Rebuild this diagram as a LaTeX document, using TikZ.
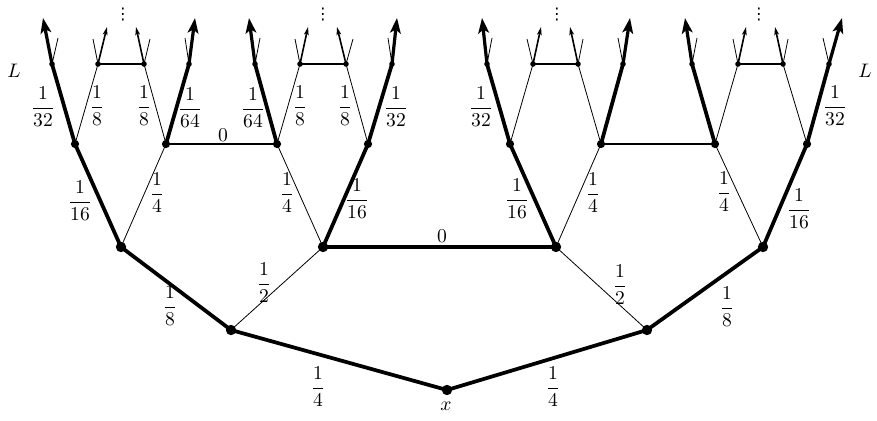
\documentclass[tikz,border=0pt]{standalone}
\usepackage{amsmath}
\usepackage{fontspec}
\newfontfamily\dejavu{DejaVu Sans}
\usetikzlibrary{arrows.meta}
\begin{document}
\begin{tikzpicture}[x=0.56pt,y=-0.56pt,
  thk/.style={line width=2.1pt},
  thn/.style={line width=0.45pt},
  hmid/.style={line width=1.6pt},
  hsml/.style={line width=1.1pt},
  tarr/.style={line width=1.8pt,-{Stealth[length=8.5pt,width=6pt,inset=2pt]}},
  marr/.style={line width=0.9pt,-{Stealth[length=4.5pt,width=2.6pt,inset=1pt]}},
  bigdot/.style={circle,fill=black,draw=none,inner sep=0pt,minimum size=5.8pt},
  middot/.style={circle,fill=black,draw=none,inner sep=0pt,minimum size=4.6pt},
  smldot/.style={circle,fill=black,draw=none,inner sep=0pt,minimum size=3.1pt},
  lab/.style={inner sep=0pt,font=\fontsize{11}{13}\selectfont},
  vd/.style={inner sep=0pt,font=\dejavu\fontsize{9}{10}\selectfont}
]
\useasboundingbox (0,0) rectangle (877,420);
% tree points
\coordinate (r) at (447,390);
\coordinate (a) at (231,330);
\coordinate (b) at (647,330);
\coordinate (a1) at (121,247);
\coordinate (a2) at (323,247);
\coordinate (b1) at (556,247);
\coordinate (b2) at (763,247);
\foreach \i/\x in {1/75,2/166,3/277,4/368,5/510,6/601,7/715,8/807}
  {\coordinate (p\i) at (\x,144);}
\foreach \i/\x in {1/52,2/98,3/144,4/189,5/255,6/300,7/346,8/392,9/487,10/533,11/578,12/623,13/692,14/738,15/783,16/829}
  {\coordinate (q\i) at (\x,64);}
% thick edges
\draw[thk] (a1) -- (a) -- (r) -- (b) -- (b2);
\draw[thk] (a1) -- (p1);
\draw[thk] (a2) -- (p4);
\draw[thk] (b1) -- (p5);
\draw[thk] (b2) -- (p8);
\draw[thk] (a2) -- (b1);
\draw[hmid] (p2) -- (p3);
\draw[hmid] (p6) -- (p7);
\foreach \u/\v in {p1/q1,p2/q4,p3/q5,p4/q8,p5/q9,p6/q12,p7/q13,p8/q16}
  {\draw[thk] (\u) -- (\v);}
% thin edges
\draw[thn] (a) -- (a2);
\draw[thn] (b) -- (b1);
\draw[thn] (a1) -- (p2);
\draw[thn] (a2) -- (p3);
\draw[thn] (b1) -- (p6);
\draw[thn] (b2) -- (p7);
\foreach \u/\v in {p1/q2,p2/q3,p3/q6,p4/q7,p5/q10,p6/q11,p7/q14,p8/q15}
  {\draw[thn] (\u) -- (\v);}
\foreach \u/\v in {q2/q3,q6/q7,q10/q11,q14/q15}
  {\draw[hsml] (\u) -- (\v);}
% top ends: outer nodes (thick arrows)
\foreach \i/\tx/\sx in {1/43/58,4/195/185,5/249/260,8/397/388,9/482/492,12/630/618,13/685/697,16/842/823}
  {\coordinate (t\i) at (\tx,18);
   \coordinate (s\i) at (\sx,38);
   \draw[thn] (q\i) -- (s\i);
   \draw[tarr] (q\i) -- (t\i);}
% top ends: inner nodes (medium arrows)
\foreach \i/\tx/\sx in {2/107/93,3/136/150,6/308/295,7/337/353,10/541/527,11/570/583,14/746/733,15/775/788}
  {\coordinate (t\i) at (\tx,27);
   \coordinate (s\i) at (\sx,39);
   \draw[thn] (q\i) -- (s\i);
   \draw[marr] (q\i) -- (t\i);}
% dots
\foreach \n in {r,a,b,a1,a2,b1,b2}
  {\node[bigdot] (d\n) at (\n) {};}
\foreach \i in {1,...,8}
  {\node[middot] (dp\i) at (p\i) {};}
\foreach \i in {1,...,16}
  {\node[smldot] (dq\i) at (q\i) {};}
% vdots
\node[vd] (v1) at (123,15) {⋮};
\node[vd] (v2) at (323,15) {⋮};
\node[vd] (v3) at (557,15) {⋮};
\node[vd] (v4) at (759,15) {⋮};
% labels
\node[lab] (lx) at (446,406) {$x$};
\node[lab] (lL1) at (14,71) {$L$};
\node[lab] (lL2) at (865,71) {$L$};
\node[lab] (e1) at (318,387) {$\dfrac{1}{4}$};
\node[lab] (e2) at (553,387) {$\dfrac{1}{4}$};
\node[lab] (e3) at (170,306) {$\dfrac{1}{8}$};
\node[lab] (e4) at (727,307) {$\dfrac{1}{8}$};
\node[lab] (e5) at (264,283) {$\dfrac{1}{2}$};
\node[lab] (e6) at (620,285) {$\dfrac{1}{2}$};
\node[lab] (e7) at (442,236) {$0$};
\node[lab] (e8) at (80,201) {$\dfrac{1}{16}$};
\node[lab] (e9) at (157,193) {$\dfrac{1}{4}$};
\node[lab] (e10) at (287,193) {$\dfrac{1}{4}$};
\node[lab] (e11) at (357,199) {$\dfrac{1}{16}$};
\node[lab] (e12) at (517,199) {$\dfrac{1}{16}$};
\node[lab] (e13) at (593,193) {$\dfrac{1}{4}$};
\node[lab] (e14) at (724,192) {$\dfrac{1}{4}$};
\node[lab] (e15) at (799,209) {$\dfrac{1}{16}$};
\node[lab] (e16) at (223,135) {$0$};
\node[lab] (e17) at (43,107) {$\dfrac{1}{32}$};
\node[lab] (e18) at (97,106) {$\dfrac{1}{8}$};
\node[lab] (e19) at (144,106) {$\dfrac{1}{8}$};
\node[lab] (e20) at (190,108) {$\dfrac{1}{64}$};
\node[lab] (e21) at (253,108) {$\dfrac{1}{64}$};
\node[lab] (e22) at (300,106) {$\dfrac{1}{8}$};
\node[lab] (e23) at (345,106) {$\dfrac{1}{8}$};
\node[lab] (e24) at (396,107) {$\dfrac{1}{32}$};
\node[lab] (e25) at (481,107) {$\dfrac{1}{32}$};
\node[lab] (e26) at (835,106) {$\dfrac{1}{32}$};
\end{tikzpicture}
\end{document}
